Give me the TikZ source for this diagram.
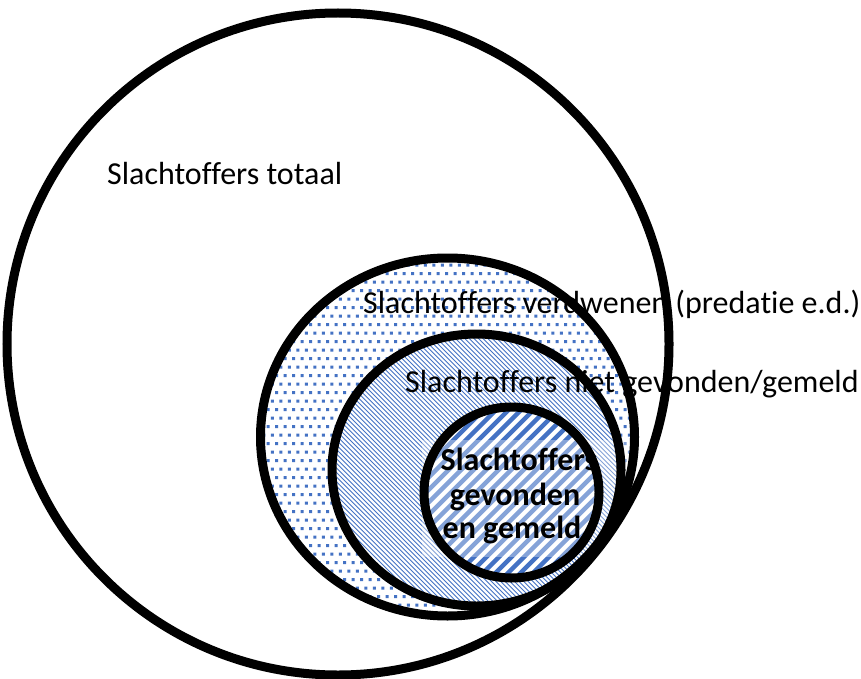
\documentclass[tikz,border=0pt]{standalone}
\usepackage{fontspec}
\setmainfont{Carlito}[Ligatures=NoCommon]
\definecolor{ofblue}{HTML}{4472C4}
\begin{document}
\begin{tikzpicture}[x=1pt,y=-1pt,
  ring/.style={draw=black, line width=9pt},
  lbl/.style={font=\fontsize{32}{33}\selectfont, inner sep=0pt, anchor=base west},
  core/.style={font=\fontsize{32}{33}\selectfont\bfseries, inner sep=0pt, anchor=base}]
\useasboundingbox (0,0) rectangle (861,679);
\fill[white] (0,0) rectangle (861,679);

% centres of the four nested sets
\coordinate (cA) at (338,344);
\coordinate (cB) at (447.5,437);
\coordinate (cC) at (476.5,470);
\coordinate (cD) at (511.5,492.5);

% dotted area: victims that disappeared
\begin{scope}
  \clip (cB) ellipse [x radius=187, y radius=179];
  \fill[ofblue] \foreach \i in {0,...,43} { \foreach \j in {0,...,45} {
      ({258+\j*8.5+mod(\i,2)*4.25}, {255+\i*8.5}) rectangle ++(3,3) } };
\end{scope}

% fine hatching: victims not found / not reported
\begin{scope}
  \clip (cC) ellipse [x radius=144.5, y radius=136];
  \fill[white] (cC) ellipse [x radius=144.5, y radius=136];
  \draw[ofblue, line width=0.9pt] \foreach \k in {0,...,125} {
      ({60+\k*4.6}, 334) -- ++(272,272) };
\end{scope}

% wide stripes: victims found and reported
\begin{scope}
  \clip (cD) ellipse [x radius=87.5, y radius=85.5];
  \fill[white] (cD) ellipse [x radius=87.5, y radius=85.5];
  \draw[ofblue, line width=4.5pt] \foreach \k in {0,...,29} {
      ({253+\k*12.5}, 578) -- ++(171,-171) };
\end{scope}

% soft backdrop behind the inner caption
\fill[white, opacity=0.35] (422,440) rectangle (677,557);

% outlines
\draw[ring] (cA) ellipse [x radius=331, y radius=331];
\draw[ring] (cB) ellipse [x radius=187, y radius=179];
\draw[ring] (cC) ellipse [x radius=144.5, y radius=136];
\draw[ring] (cD) ellipse [x radius=87.5, y radius=85.5];

% captions
\node[lbl] (tA) at (107,185) {Slachtoffers totaal};
\node[lbl] (tB) at (363,313) {Slachtoffers verdwenen (predatie e.d.)};
\node[lbl] (tC) at (405,392) {Slachtoffers niet gevonden/gemeld};
\node[core] (tD1) at (519,470) {Slachtoffers};
\node[core] (tD2) at (515,505) {gevonden};
\node[core] (tD3) at (512,538) {en gemeld};
\end{tikzpicture}
\end{document}
